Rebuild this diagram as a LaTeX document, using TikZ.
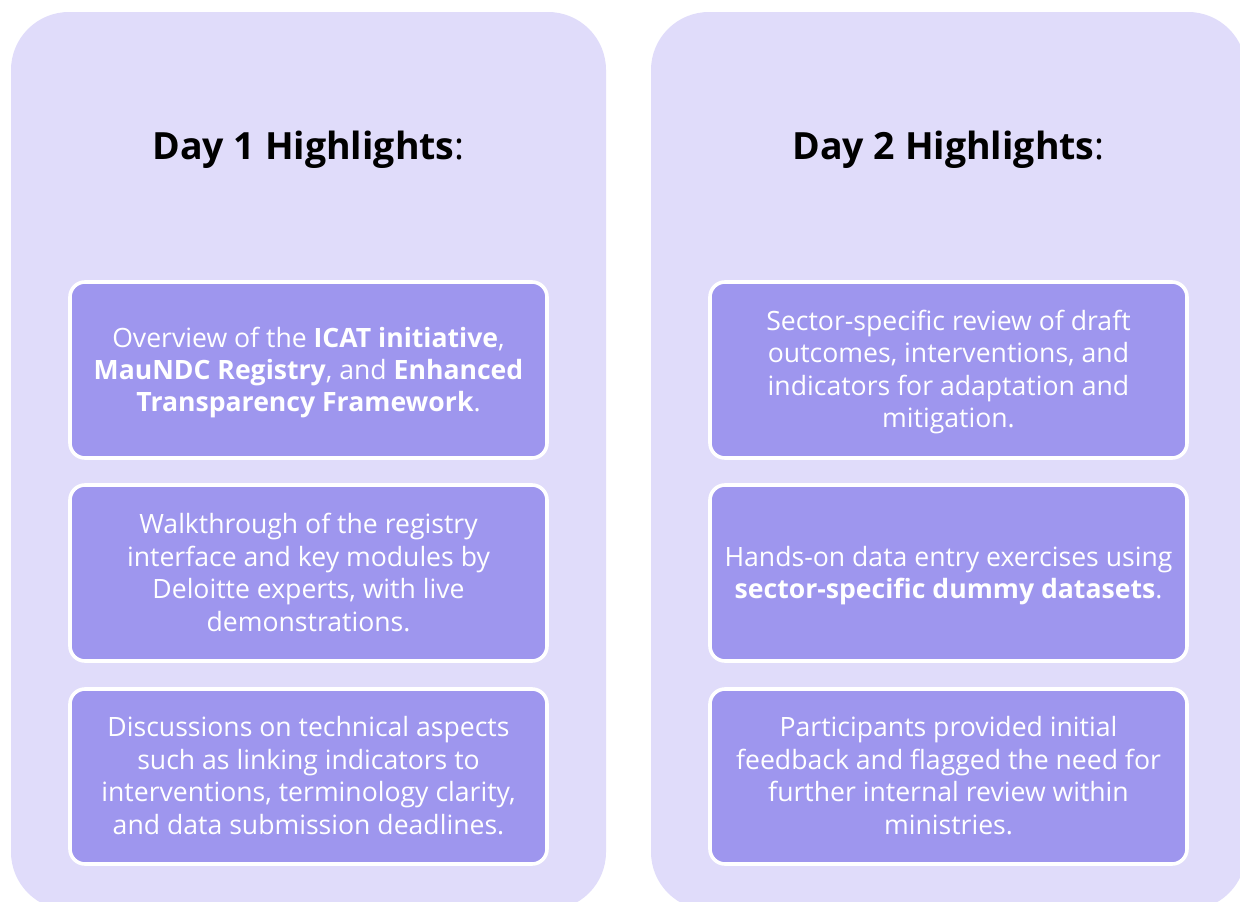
\documentclass[tikz,border=0pt]{standalone}
\usepackage{fontspec}
\setmainfont{Open Sans}
\definecolor{panel}{HTML}{E0DCFA}
\definecolor{cardc}{HTML}{9E96EE}
\tikzset{x=1pt,y=-1pt,
 panelbox/.style={fill=panel,draw=none,rounded corners=58pt},
 cardbox/.style={fill=cardc,draw=white,line width=3.6pt,rounded corners=15pt},
 cardtext/.style={align=center,text=white,font=\fontsize{26.6}{32.4}\selectfont,inner sep=0pt},
 headtext/.style={text=black,font=\fontsize{37.5}{46}\selectfont,inner sep=0pt}}
\begin{document}
\begin{tikzpicture}
\useasboundingbox (0,0) rectangle (1240,902);
\fill[white] (0,0) rectangle (1240,902);
\begin{scope}
\clip (0,0) rectangle (1240,902);
\draw[panelbox] (11,12) rectangle (606,910);
\draw[panelbox] (651,12) rectangle (1246,910);
\end{scope}
\node[headtext] (h1) at (308.5,150) {\textbf{Day 1 Highlights}:};
\node[headtext] (h2) at (948.5,150) {\textbf{Day 2 Highlights}:};
\draw[cardbox] (70,282) rectangle (547,458);
\draw[cardbox] (70,485) rectangle (547,661);
\draw[cardbox] (70,689) rectangle (547,864);
\draw[cardbox] (710,282) rectangle (1187,458);
\draw[cardbox] (710,485) rectangle (1187,661);
\draw[cardbox] (710,689) rectangle (1187,864);
\node[cardtext] (a1) at (308.5,372.5) {Overview of the \textbf{ICAT initiative},\\\textbf{MauNDC Registry}, and \textbf{Enhanced}\\\textbf{Transparency Framework}.};
\node[cardtext] (a2) at (308.5,572.5) {Walkthrough of the registry\\interface and key modules by\\Deloitte experts, with live\\demonstrations.};
\node[cardtext] (a3) at (308.5,775.5) {Discussions on technical aspects\\such as linking indicators to\\interventions, terminology clarity,\\and data submission deadlines.};
\node[cardtext] (b1) at (948.5,372) {Sector-specific review of draft\\outcomes, interventions, and\\indicators for adaptation and\\mitigation.};
\node[cardtext] (b2) at (948.5,575.5) {Hands-on data entry exercises using\\\textbf{sector-specific dummy datasets}.};
\node[cardtext] (b3) at (948.5,775.5) {Participants provided initial\\feedback and flagged the need for\\further internal review within\\ministries.};
\end{tikzpicture}
\end{document}
